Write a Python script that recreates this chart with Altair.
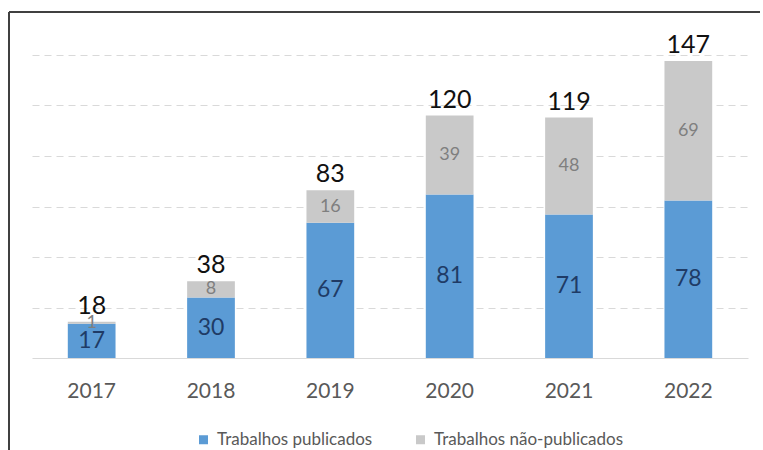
import altair as alt
import pandas as pd

anos = ["2017", "2018", "2019", "2020", "2021", "2022"]
publicados = [17, 30, 67, 81, 71, 78]
nao_publicados = [1, 8, 16, 39, 48, 69]

serie_pub = "Trabalhos publicados"
serie_nao = "Trabalhos não-publicados"

rows = []
for a, p, n in zip(anos, publicados, nao_publicados):
    rows.append({"ano": a, "serie": serie_pub, "valor": p, "ordem": 0})
    rows.append({"ano": a, "serie": serie_nao, "valor": n, "ordem": 1})
df = pd.DataFrame(rows)

FONT = "Lato"

x_enc = alt.X(
    "ano:N",
    sort=anos,
    scale=alt.Scale(paddingInner=0.6, paddingOuter=0.3),
    axis=alt.Axis(
        title=None, labelAngle=0, ticks=False, labelFontSize=21,
        labelColor="#595959", labelFont=FONT, labelPadding=22,
        domainColor="#d9d9d9", domainWidth=1,
    ),
)
y_scale = alt.Scale(domain=[0, 150])

base = alt.Chart(df)

bars = base.mark_bar().encode(
    x=x_enc,
    y=alt.Y(
        "valor:Q", stack="zero", scale=y_scale,
        axis=alt.Axis(
            title=None, labels=False, ticks=False, domain=False,
            values=[25, 50, 75, 100, 125, 150], grid=True,
            gridColor="#d9d9d9", gridDash=[7, 5], gridWidth=1,
        ),
    ),
    color=alt.Color(
        "serie:N",
        scale=alt.Scale(domain=[serie_pub, serie_nao], range=["#5b9bd5", "#c9c9c9"]),
        legend=alt.Legend(
            title=None, orient="none", direction="horizontal",
            legendX=163, legendY=376, symbolType="square", symbolSize=81,
            symbolStrokeWidth=0, labelFontSize=17, labelColor="#595959",
            labelFont=FONT, columnPadding=39, labelOffset=5, labelLimit=400,
        ),
    ),
    order=alt.Order("ordem:Q"),
)

stacked = base.transform_stack(
    stack="valor", groupby=["ano"], as_=["y0", "y1"], sort=[alt.SortField("ordem")]
).transform_calculate(meio="(datum.y0 + datum.y1) / 2")

lbl_pub = stacked.transform_filter(alt.datum.serie == serie_pub).mark_text(
    font=FONT, fontSize=23, color="#1f3b66", baseline="middle"
).encode(x=alt.X("ano:N", sort=anos), y=alt.Y("meio:Q", scale=y_scale), text="valor:Q")

lbl_nao = stacked.transform_filter(alt.datum.serie == serie_nao).mark_text(
    font=FONT, fontSize=18, color="#7f7f7f", baseline="middle"
).encode(x=alt.X("ano:N", sort=anos), y=alt.Y("meio:Q", scale=y_scale), text="valor:Q")

totais = base.transform_aggregate(
    total="sum(valor)", groupby=["ano"]
).mark_text(
    font=FONT, fontSize=25, color="#111111", baseline="alphabetic", dy=-8
).encode(x=alt.X("ano:N", sort=anos), y=alt.Y("total:Q", scale=y_scale), text="total:Q")

frame_top = base.mark_rule(color="#404040", strokeWidth=1.5).encode(
    x=alt.value(-23), x2=alt.value(728), y=alt.value(-43)
)
frame_left = base.mark_rule(color="#404040", strokeWidth=1.5).encode(
    x=alt.value(-23), y=alt.value(-43), y2=alt.value(395)
)

chart = alt.layer(
    bars, lbl_pub, lbl_nao, totais, frame_top, frame_left
).properties(
    width=716, height=303,
    autosize=alt.AutoSizeParams(type="none"),
    padding={"left": 32, "top": 55, "right": 15, "bottom": 92},
    background="white",
).configure_view(stroke=None)

chart.save("out.html", embed_options={"renderer": "svg", "actions": False})
